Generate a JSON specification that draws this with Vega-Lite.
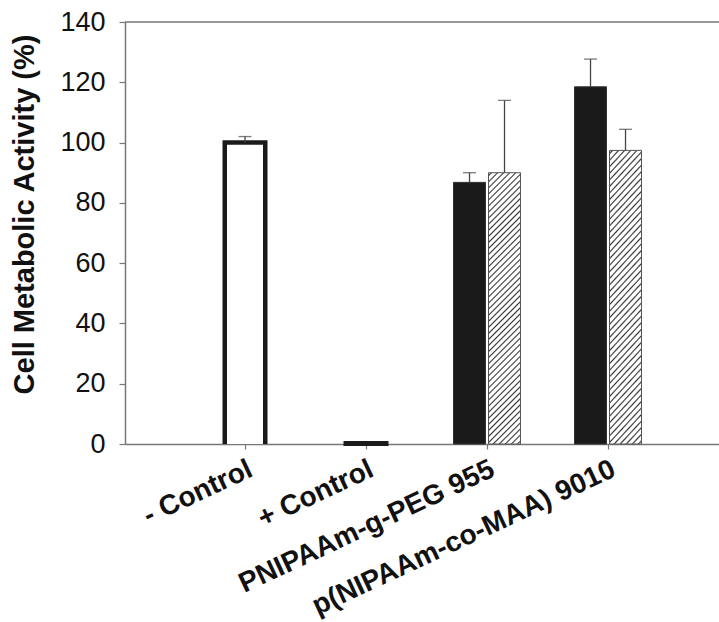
{
  "$schema": "https://vega.github.io/schema/vega-lite/v6.json",
  "width": 594,
  "height": 422,
  "autosize": {"type": "none"},
  "padding": {"left": 125, "top": 22, "right": 0, "bottom": 178},
  "background": "white",
  "config": {
    "view": {"stroke": null},
    "font": "Liberation Sans",
    "axisX": {
      "labelAngle": -25, "labelAlign": "right", "labelBaseline": "top",
      "labelFontSize": 28, "labelFontWeight": "bold", "labelColor": "#111", "labelFont": "Liberation Sans",
      "labelPadding": 6, "labelLimit": 0, "labelOverlap": false,
      "domainColor": "#777", "domainWidth": 1.5, "tickColor": "#777", "tickSize": 5, "tickWidth": 1.2, "grid": false
    },
    "axisY": {
      "titleFontSize": 29, "titleFontWeight": "bold", "titleColor": "#111", "titleFont": "Liberation Sans",
      "titleX": -92, "titleY": 192, "titleBaseline": "alphabetic", "titleAlign": "center", "titleAngle": -90,
      "tickCount": 7, "labelFontSize": 27, "labelColor": "#111", "labelFont": "Liberation Sans",
      "labelPadding": 14, "labelFlush": false, "labelOverlap": false,
      "tickSize": 6, "tickColor": "#777", "tickWidth": 1.2, "domainColor": "#777", "domainWidth": 1.5, "grid": false
    }
  },
  "data": {
    "values": [
      {"group": "- Control", "series": "control", "value": 100, "upper": 102},
      {"group": "+ Control", "series": "control", "value": 0.3, "upper": null},
      {"group": "PNIPAAm-g-PEG 955", "series": "A", "value": 86.8, "upper": 90},
      {"group": "PNIPAAm-g-PEG 955", "series": "B", "value": 90, "upper": 114},
      {"group": "p(NIPAAm-co-MAA) 9010", "series": "A", "value": 118.5, "upper": 127.7},
      {"group": "p(NIPAAm-co-MAA) 9010", "series": "B", "value": 97.4, "upper": 104.4}
    ]
  },
  "layer": [
    {
      "transform": [{"filter": "datum.group === '- Control'"}],
      "mark": {"type": "bar", "fill": "white", "stroke": "#1a1a1a", "strokeWidth": 4.5, "width": 40.5, "clip": true},
      "encoding": {
        "x": {"field": "group", "type": "nominal", "sort": null, "title": null, "scale": {"domain": ["- Control", "+ Control", "PNIPAAm-g-PEG 955", "p(NIPAAm-co-MAA) 9010"], "paddingInner": 0, "paddingOuter": 0.4545, "align": 0.541}},
        "y": {"field": "value", "type": "quantitative", "title": "Cell Metabolic Activity (%)", "scale": {"domain": [0, 140], "nice": false}},
        "y2": {"datum": -1.2}
      }
    },
    {
      "data": {"values": [{"edge": "top"}]},
      "mark": {"type": "rule", "color": "#777", "strokeWidth": 1.5},
      "encoding": {
        "y": {"datum": 140, "type": "quantitative", "title": "Cell Metabolic Activity (%)", "scale": {"domain": [0, 140], "nice": false}}
      }
    },
    {
      "transform": [{"filter": "datum.group === '+ Control'"}],
      "mark": {"type": "bar", "fill": "#1a1a1a", "stroke": "#1a1a1a", "strokeWidth": 4, "width": 41},
      "encoding": {
        "x": {"field": "group", "type": "nominal", "sort": null, "title": null, "scale": {"domain": ["- Control", "+ Control", "PNIPAAm-g-PEG 955", "p(NIPAAm-co-MAA) 9010"], "paddingInner": 0, "paddingOuter": 0.4545, "align": 0.541}},
        "y": {"field": "value", "type": "quantitative", "title": "Cell Metabolic Activity (%)", "scale": {"domain": [0, 140], "nice": false}},
        "y2": {"datum": 0}
      }
    },
    {
      "transform": [{"filter": "datum.series === 'A'"}],
      "mark": {"type": "bar", "fill": "#1a1a1a", "stroke": "#333", "strokeWidth": 1, "width": 32, "xOffset": -17.5},
      "encoding": {
        "x": {"field": "group", "type": "nominal", "sort": null, "title": null, "scale": {"domain": ["- Control", "+ Control", "PNIPAAm-g-PEG 955", "p(NIPAAm-co-MAA) 9010"], "paddingInner": 0, "paddingOuter": 0.4545, "align": 0.541}},
        "y": {"field": "value", "type": "quantitative", "title": "Cell Metabolic Activity (%)", "scale": {"domain": [0, 140], "nice": false}}
      }
    },
    {
      "transform": [{"filter": "datum.series === 'B'"}],
      "mark": {
        "type": "bar", "stroke": "#555", "strokeWidth": 1, "width": 32, "xOffset": 17.5,
        "fill": {
          "gradient": "linear", "x1": 0, "y1": 0, "x2": 0.1299, "y2": 1.1025,
          "stops": [
            {"offset": 0, "color": "#fff"},
            {"offset": 0.005, "color": "#fff"}, {"offset": 0.01, "color": "#333"}, {"offset": 0.015, "color": "#fff"},
            {"offset": 0.025, "color": "#fff"}, {"offset": 0.03, "color": "#333"}, {"offset": 0.035, "color": "#fff"},
            {"offset": 0.045, "color": "#fff"}, {"offset": 0.05, "color": "#333"}, {"offset": 0.055, "color": "#fff"},
            {"offset": 0.065, "color": "#fff"}, {"offset": 0.07, "color": "#333"}, {"offset": 0.075, "color": "#fff"},
            {"offset": 0.085, "color": "#fff"}, {"offset": 0.09, "color": "#333"}, {"offset": 0.095, "color": "#fff"},
            {"offset": 0.105, "color": "#fff"}, {"offset": 0.11, "color": "#333"}, {"offset": 0.115, "color": "#fff"},
            {"offset": 0.125, "color": "#fff"}, {"offset": 0.13, "color": "#333"}, {"offset": 0.135, "color": "#fff"},
            {"offset": 0.145, "color": "#fff"}, {"offset": 0.15, "color": "#333"}, {"offset": 0.155, "color": "#fff"},
            {"offset": 0.165, "color": "#fff"}, {"offset": 0.17, "color": "#333"}, {"offset": 0.175, "color": "#fff"},
            {"offset": 0.185, "color": "#fff"}, {"offset": 0.19, "color": "#333"}, {"offset": 0.195, "color": "#fff"},
            {"offset": 0.205, "color": "#fff"}, {"offset": 0.21, "color": "#333"}, {"offset": 0.215, "color": "#fff"},
            {"offset": 0.225, "color": "#fff"}, {"offset": 0.23, "color": "#333"}, {"offset": 0.235, "color": "#fff"},
            {"offset": 0.245, "color": "#fff"}, {"offset": 0.25, "color": "#333"}, {"offset": 0.255, "color": "#fff"},
            {"offset": 0.265, "color": "#fff"}, {"offset": 0.27, "color": "#333"}, {"offset": 0.275, "color": "#fff"},
            {"offset": 0.285, "color": "#fff"}, {"offset": 0.29, "color": "#333"}, {"offset": 0.295, "color": "#fff"},
            {"offset": 0.305, "color": "#fff"}, {"offset": 0.31, "color": "#333"}, {"offset": 0.315, "color": "#fff"},
            {"offset": 0.325, "color": "#fff"}, {"offset": 0.33, "color": "#333"}, {"offset": 0.335, "color": "#fff"},
            {"offset": 0.345, "color": "#fff"}, {"offset": 0.35, "color": "#333"}, {"offset": 0.355, "color": "#fff"},
            {"offset": 0.365, "color": "#fff"}, {"offset": 0.37, "color": "#333"}, {"offset": 0.375, "color": "#fff"},
            {"offset": 0.385, "color": "#fff"}, {"offset": 0.39, "color": "#333"}, {"offset": 0.395, "color": "#fff"},
            {"offset": 0.405, "color": "#fff"}, {"offset": 0.41, "color": "#333"}, {"offset": 0.415, "color": "#fff"},
            {"offset": 0.425, "color": "#fff"}, {"offset": 0.43, "color": "#333"}, {"offset": 0.435, "color": "#fff"},
            {"offset": 0.445, "color": "#fff"}, {"offset": 0.45, "color": "#333"}, {"offset": 0.455, "color": "#fff"},
            {"offset": 0.465, "color": "#fff"}, {"offset": 0.47, "color": "#333"}, {"offset": 0.475, "color": "#fff"},
            {"offset": 0.485, "color": "#fff"}, {"offset": 0.49, "color": "#333"}, {"offset": 0.495, "color": "#fff"},
            {"offset": 0.505, "color": "#fff"}, {"offset": 0.51, "color": "#333"}, {"offset": 0.515, "color": "#fff"},
            {"offset": 0.525, "color": "#fff"}, {"offset": 0.53, "color": "#333"}, {"offset": 0.535, "color": "#fff"},
            {"offset": 0.545, "color": "#fff"}, {"offset": 0.55, "color": "#333"}, {"offset": 0.555, "color": "#fff"},
            {"offset": 0.565, "color": "#fff"}, {"offset": 0.57, "color": "#333"}, {"offset": 0.575, "color": "#fff"},
            {"offset": 0.585, "color": "#fff"}, {"offset": 0.59, "color": "#333"}, {"offset": 0.595, "color": "#fff"},
            {"offset": 0.605, "color": "#fff"}, {"offset": 0.61, "color": "#333"}, {"offset": 0.615, "color": "#fff"},
            {"offset": 0.625, "color": "#fff"}, {"offset": 0.63, "color": "#333"}, {"offset": 0.635, "color": "#fff"},
            {"offset": 0.645, "color": "#fff"}, {"offset": 0.65, "color": "#333"}, {"offset": 0.655, "color": "#fff"},
            {"offset": 0.665, "color": "#fff"}, {"offset": 0.67, "color": "#333"}, {"offset": 0.675, "color": "#fff"},
            {"offset": 0.685, "color": "#fff"}, {"offset": 0.69, "color": "#333"}, {"offset": 0.695, "color": "#fff"},
            {"offset": 0.705, "color": "#fff"}, {"offset": 0.71, "color": "#333"}, {"offset": 0.715, "color": "#fff"},
            {"offset": 0.725, "color": "#fff"}, {"offset": 0.73, "color": "#333"}, {"offset": 0.735, "color": "#fff"},
            {"offset": 0.745, "color": "#fff"}, {"offset": 0.75, "color": "#333"}, {"offset": 0.755, "color": "#fff"},
            {"offset": 0.765, "color": "#fff"}, {"offset": 0.77, "color": "#333"}, {"offset": 0.775, "color": "#fff"},
            {"offset": 0.785, "color": "#fff"}, {"offset": 0.79, "color": "#333"}, {"offset": 0.795, "color": "#fff"},
            {"offset": 0.805, "color": "#fff"}, {"offset": 0.81, "color": "#333"}, {"offset": 0.815, "color": "#fff"},
            {"offset": 0.825, "color": "#fff"}, {"offset": 0.83, "color": "#333"}, {"offset": 0.835, "color": "#fff"},
            {"offset": 0.845, "color": "#fff"}, {"offset": 0.85, "color": "#333"}, {"offset": 0.855, "color": "#fff"},
            {"offset": 0.865, "color": "#fff"}, {"offset": 0.87, "color": "#333"}, {"offset": 0.875, "color": "#fff"},
            {"offset": 0.885, "color": "#fff"}, {"offset": 0.89, "color": "#333"}, {"offset": 0.895, "color": "#fff"},
            {"offset": 0.905, "color": "#fff"}, {"offset": 0.91, "color": "#333"}, {"offset": 0.915, "color": "#fff"},
            {"offset": 0.925, "color": "#fff"}, {"offset": 0.93, "color": "#333"}, {"offset": 0.935, "color": "#fff"},
            {"offset": 0.945, "color": "#fff"}, {"offset": 0.95, "color": "#333"}, {"offset": 0.955, "color": "#fff"},
            {"offset": 0.965, "color": "#fff"}, {"offset": 0.97, "color": "#333"}, {"offset": 0.975, "color": "#fff"},
            {"offset": 0.985, "color": "#fff"}, {"offset": 0.99, "color": "#333"}, {"offset": 0.995, "color": "#fff"},
            {"offset": 1, "color": "#fff"}
          ]
        }
      },
      "encoding": {
        "x": {"field": "group", "type": "nominal", "sort": null, "title": null, "scale": {"domain": ["- Control", "+ Control", "PNIPAAm-g-PEG 955", "p(NIPAAm-co-MAA) 9010"], "paddingInner": 0, "paddingOuter": 0.4545, "align": 0.541}},
        "y": {"field": "value", "type": "quantitative", "title": "Cell Metabolic Activity (%)", "scale": {"domain": [0, 140], "nice": false}}
      }
    },
    {
      "transform": [{"filter": "datum.series === 'control' && datum.upper != null"}],
      "mark": {"type": "rule", "color": "#444", "strokeWidth": 1.3},
      "encoding": {
        "x": {"field": "group", "type": "nominal", "sort": null, "title": null, "scale": {"domain": ["- Control", "+ Control", "PNIPAAm-g-PEG 955", "p(NIPAAm-co-MAA) 9010"], "paddingInner": 0, "paddingOuter": 0.4545, "align": 0.541}},
        "y": {"field": "value", "type": "quantitative", "title": "Cell Metabolic Activity (%)", "scale": {"domain": [0, 140], "nice": false}},
        "y2": {"field": "upper"}
      }
    },
    {
      "transform": [{"filter": "datum.series === 'control' && datum.upper != null"}],
      "mark": {"type": "tick", "orient": "horizontal", "color": "#444", "thickness": 1.3, "size": 13},
      "encoding": {
        "x": {"field": "group", "type": "nominal", "sort": null, "title": null, "scale": {"domain": ["- Control", "+ Control", "PNIPAAm-g-PEG 955", "p(NIPAAm-co-MAA) 9010"], "paddingInner": 0, "paddingOuter": 0.4545, "align": 0.541}},
        "y": {"field": "upper", "type": "quantitative", "title": "Cell Metabolic Activity (%)", "scale": {"domain": [0, 140], "nice": false}}
      }
    },
    {
      "transform": [{"filter": "datum.series === 'A'"}],
      "mark": {"type": "rule", "color": "#444", "strokeWidth": 1.3, "xOffset": -17.5},
      "encoding": {
        "x": {"field": "group", "type": "nominal", "sort": null, "title": null, "scale": {"domain": ["- Control", "+ Control", "PNIPAAm-g-PEG 955", "p(NIPAAm-co-MAA) 9010"], "paddingInner": 0, "paddingOuter": 0.4545, "align": 0.541}},
        "y": {"field": "value", "type": "quantitative", "title": "Cell Metabolic Activity (%)", "scale": {"domain": [0, 140], "nice": false}},
        "y2": {"field": "upper"}
      }
    },
    {
      "transform": [{"filter": "datum.series === 'A'"}],
      "mark": {"type": "tick", "orient": "horizontal", "color": "#444", "thickness": 1.3, "size": 13, "xOffset": -17.5},
      "encoding": {
        "x": {"field": "group", "type": "nominal", "sort": null, "title": null, "scale": {"domain": ["- Control", "+ Control", "PNIPAAm-g-PEG 955", "p(NIPAAm-co-MAA) 9010"], "paddingInner": 0, "paddingOuter": 0.4545, "align": 0.541}},
        "y": {"field": "upper", "type": "quantitative", "title": "Cell Metabolic Activity (%)", "scale": {"domain": [0, 140], "nice": false}}
      }
    },
    {
      "transform": [{"filter": "datum.series === 'B'"}],
      "mark": {"type": "rule", "color": "#444", "strokeWidth": 1.3, "xOffset": 17.5},
      "encoding": {
        "x": {"field": "group", "type": "nominal", "sort": null, "title": null, "scale": {"domain": ["- Control", "+ Control", "PNIPAAm-g-PEG 955", "p(NIPAAm-co-MAA) 9010"], "paddingInner": 0, "paddingOuter": 0.4545, "align": 0.541}},
        "y": {"field": "value", "type": "quantitative", "title": "Cell Metabolic Activity (%)", "scale": {"domain": [0, 140], "nice": false}},
        "y2": {"field": "upper"}
      }
    },
    {
      "transform": [{"filter": "datum.series === 'B'"}],
      "mark": {"type": "tick", "orient": "horizontal", "color": "#444", "thickness": 1.3, "size": 13, "xOffset": 17.5},
      "encoding": {
        "x": {"field": "group", "type": "nominal", "sort": null, "title": null, "scale": {"domain": ["- Control", "+ Control", "PNIPAAm-g-PEG 955", "p(NIPAAm-co-MAA) 9010"], "paddingInner": 0, "paddingOuter": 0.4545, "align": 0.541}},
        "y": {"field": "upper", "type": "quantitative", "title": "Cell Metabolic Activity (%)", "scale": {"domain": [0, 140], "nice": false}}
      }
    }
  ]
}
